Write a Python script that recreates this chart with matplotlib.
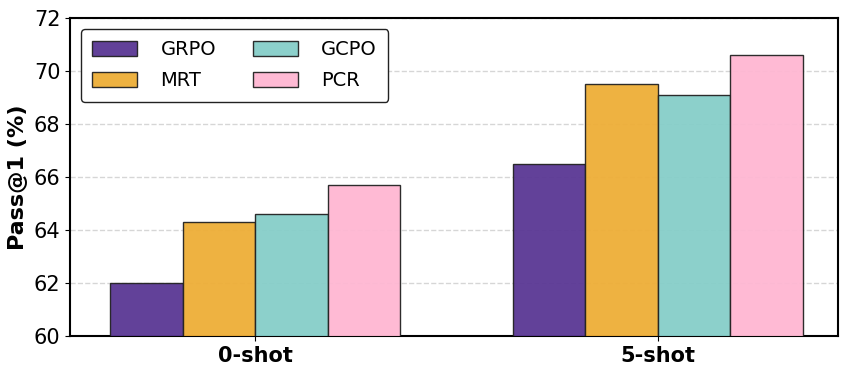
import matplotlib
matplotlib.use('Agg')
import matplotlib.pyplot as plt
import numpy as np

settings = ['0-shot', '5-shot']
methods = ['GRPO', 'MRT', 'GCPO', 'PCR']
grpo = [62.0, 66.5]
mrt = [64.3, 69.5]
gcpo = [64.6, 69.1]
pcr = [65.7, 70.6]
colors = ['#5a3794', '#eeae37', '#86cec9', '#ffb7d2']


def main():
    fig = plt.figure(figsize=(8.47, 3.76), dpi=100)
    ax = fig.add_axes([70 / 847, 40 / 376, 768 / 847, 318 / 376])

    x = np.arange(len(settings))
    width = 0.18
    series = [grpo, mrt, gcpo, pcr]
    for i, (name, vals) in enumerate(zip(methods, series)):
        ax.bar(x + (i - 1.5) * width, vals, width, color=colors[i], alpha=0.95,
               edgecolor='#222222', linewidth=1.0, label=name, zorder=3)

    ax.set_ylim(60, 72)
    ax.set_yticks(np.arange(60, 73, 2))
    ax.set_xlim(-0.46, 1.447)
    ax.set_xticks(x)
    ax.set_xticklabels(settings, fontsize=15, fontweight='bold')
    ax.tick_params(axis='y', labelsize=15)
    ax.set_ylabel('Pass@1 (%)', fontsize=16, fontweight='bold')
    ax.grid(axis='y', linestyle='--', color='#cccccc', linewidth=1.0, alpha=0.8, zorder=0)
    for s in ax.spines.values():
        s.set_linewidth(1.5)

    leg = ax.legend(ncol=2, fontsize=14, loc='upper left', frameon=True,
                    edgecolor='#222222', fancybox=True, framealpha=1,
                    handlelength=2.3, handleheight=0.8, columnspacing=1.9,
                    handletextpad=1.2, labelspacing=0.6, borderpad=0.6,
                    borderaxespad=0.55)
    leg.get_frame().set_linewidth(1.0)

    fig.savefig('out.png', dpi=100)


if __name__ == '__main__':
    main()
